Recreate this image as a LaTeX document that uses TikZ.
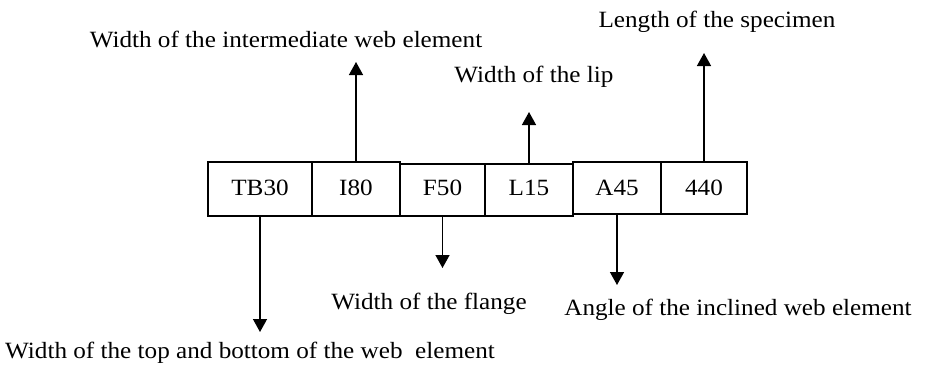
\documentclass[tikz,border=0pt]{standalone}
\usepackage{fontspec}
\setmainfont[FakeStretch=1.08]{Liberation Serif}
\usetikzlibrary{arrows.meta}
\begin{document}
\begin{tikzpicture}[x=1pt,y=-1pt,
  field/.style={draw,line width=1.2pt,inner sep=0pt,anchor=base,
    font=\fontsize{23.3}{26}\selectfont},
  tall/.style={text height=33pt},
  short/.style={text height=31pt},
  low/.style={text depth=21pt},
  high/.style={text depth=19pt},
  lbl/.style={anchor=base,inner sep=0pt,font=\fontsize{23.3}{26}\selectfont},
  ptr/.style={line width=1.4pt,-{Triangle[length=13pt,width=14pt]}}]
\useasboundingbox (0,0) rectangle (933,365);
% the six fields of the specimen code, all on one text baseline
\node[field,tall,low,minimum width=104pt]  (tb)  at (260,195) {TB30};
\node[field,tall,low,minimum width=88pt]   (i)   at (356,195) {I80};
\node[field,short,low,minimum width=85pt]  (f)   at (442.5,195) {F50};
\node[field,short,low,minimum width=88pt]  (l)   at (529,195) {L15};
\node[field,tall,high,minimum width=88pt]  (a)   at (617,195) {A45};
\node[field,tall,high,minimum width=86pt]  (len) at (704,195) {440};
% arrow ends
\coordinate (iT)   at (356,62);
\coordinate (lT)   at (529,112);
\coordinate (lenT) at (704,53);
\coordinate (tbT)  at (260,332);
\coordinate (fT)   at (442.5,268);
\coordinate (aT)   at (617,285);
% descriptions
\node[lbl] (iL)   at (286,47)  {Width of the intermediate web element};
\node[lbl] (lL)   at (534,82)  {Width of the lip};
\node[lbl] (lenL) at (717,27)  {Length of the specimen};
\node[lbl] (fL)   at (429,309) {Width of the flange};
\node[lbl] (aL)   at (738,315) {Angle of the inclined web element};
\node[lbl] (tbL)  at (250,358) {Width of the top and bottom of the web\ \ element};
% pointers
\draw[ptr] (i.north) -- (iT);
\draw[ptr] (l.north) -- (lT);
\draw[ptr] (len.north) -- (lenT);
\draw[ptr] (tb.south) -- (tbT);
\draw[ptr] (f.south) -- (fT);
\draw[ptr] (a.south) -- (aT);
\end{tikzpicture}
\end{document}
